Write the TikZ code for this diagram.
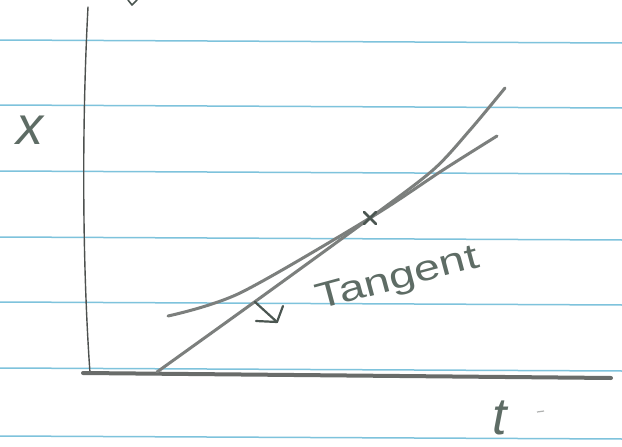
\documentclass[tikz,border=0pt]{standalone}
\usepackage{fontspec}
\setmainfont{Liberation Sans}
\usetikzlibrary{
  arrows.meta,
  positioning,
  calc
}
\definecolor{nbRule}{HTML}{7EC3DC}
\definecolor{nbPencil}{HTML}{7C7F7D}
\definecolor{nbAxis}{HTML}{4D514F}
\definecolor{nbInk}{HTML}{5E6C65}
\tikzset{
  rule/.style={nbRule, line width=1.5pt},
  axisline/.style={nbAxis, line width=1.4pt, line cap=round},
  baseaxis/.style={nbPencil!85!black, line width=4pt, line cap=round},
  pencil/.style={nbPencil, line width=3pt, line cap=round, line join=round},
  inkline/.style={nbInk!80!black, line width=2.2pt, line cap=round, line join=round},
  handlabel/.style={text=nbInk, inner sep=0pt, font=\itshape}
}

\begin{document}
\begin{tikzpicture}[x=1pt, y=-1pt]
  \useasboundingbox (0,0) rectangle (622,447);
  \fill[white] (0,0) rectangle (622,447);
  % ruled paper
  \foreach \y in {40,105,171,237,302,368,436}
    \draw[rule] (0,\y) -- (622,\y+3);
  % axes
  \coordinate (ytop) at (88,7);
  \coordinate (origin) at (83,373);
  \coordinate (tend) at (611,378);
  \draw[axisline] (ytop) .. controls (82,120) and (82,260) .. (90,373);
  \draw[baseaxis] (origin) -- (tend);
  % curve and tangent through the marked point
  \coordinate (touch) at (370,218);
  \draw[pencil] plot[smooth, tension=0.5] coordinates
    {(157,372) (260,298) (touch) (433,170) (470,130) (505,88)};
  \draw[pencil] plot[smooth, tension=0.5] coordinates
    {(168,316) (240,293) (touch) (443,170) (497,136)};
  \draw[inkline, line width=2.6pt] ($(touch)+(-6,-6)$) -- ($(touch)+(6,6)$);
  \draw[inkline, line width=2.6pt] ($(touch)+(-6,6)$) -- ($(touch)+(6,-6)$);
  % label and pointer
  \node[handlabel, font=\fontsize{36}{40}\selectfont, rotate=15, xscale=1.3]
    (tangent) at (398,280) {Tangent};
  \coordinate (tip) at (277,322);
  \draw[inkline] (255,302) -- (tip);
  \draw[inkline] (256,321) -- (tip) -- (283,306);
  % axis labels
  \node[handlabel, font=\fontsize{54}{56}\selectfont\itshape] (xlabel) at (30,130) {x};
  \node[handlabel, font=\fontsize{52}{54}\selectfont\itshape] (tlabel) at (500,418) {t};
  \draw[nbPencil!60, line width=1.2pt] (537,412) -- (544,411);
  \draw[inkline, line width=1.6pt] (128,0) -- (132,5) -- (137,0);
\end{tikzpicture}
\end{document}
